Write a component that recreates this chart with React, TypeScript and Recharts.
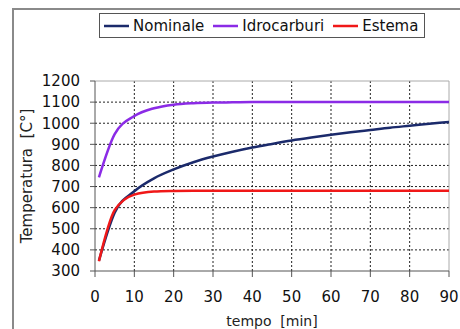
import { LineChart, Line, XAxis, YAxis, Legend, ReferenceLine } from "recharts"

const tempo = [1, 5, 10, 15, 20, 25, 30, 35, 40, 45, 50, 55, 60, 65, 70, 75, 80, 85, 90]
const nominale = [349, 576, 678, 739, 781, 815, 842, 865, 885, 902, 918, 932, 945, 957, 968, 979, 988, 997, 1006]
const idrocarburi = [743, 948, 1034, 1071, 1088, 1095, 1098, 1099, 1100, 1100, 1100, 1100, 1100, 1100, 1100, 1100, 1100, 1100, 1100]
const estema = [346, 588, 662, 676, 679, 680, 680, 680, 680, 680, 680, 680, 680, 680, 680, 680, 680, 680, 680]

const xTicks = [0, 10, 20, 30, 40, 50, 60, 70, 80, 90]
const yTicks = [300, 400, 500, 600, 700, 800, 900, 1000, 1100, 1200]
const seriesOrder = ["Nominale", "Idrocarburi", "Estema"]

const data = tempo.map((t, i) => ({
  t,
  nominale: nominale[i],
  idrocarburi: idrocarburi[i],
  estema: estema[i],
}))

const font = "'DejaVu Sans', Verdana, sans-serif"

function LegendBox({ payload }: any) {
  const items = [...(payload || [])].sort((a: any, b: any) => seriesOrder.indexOf(a.value) - seriesOrder.indexOf(b.value))
  return (
    <div
      style={{
        boxSizing: "border-box",
        width: 326,
        height: 25,
        border: "1px solid #555",
        background: "#fff",
        display: "flex",
        alignItems: "center",
        paddingLeft: 4,
        fontFamily: font,
        fontSize: 15,
        color: "#111",
      }}
    >
      {items.map((p: any) => (
        <div key={p.value} style={{ display: "flex", alignItems: "center", marginRight: 9 }}>
          <svg width={25} height={4} style={{ marginRight: 4 }}>
            <line x1={0} y1={2} x2={25} y2={2} stroke={p.color} strokeWidth={2.5} />
          </svg>
          <span>{p.value}</span>
        </div>
      ))}
    </div>
  )
}

export default function App() {
  return (
    <div style={{ position: "absolute", left: 0, top: 0, width: 460, height: 329, background: "#fff", overflow: "hidden" }}>
      <div
        style={{
          position: "absolute",
          left: 12,
          top: 8,
          width: 470,
          height: 340,
          borderLeft: "2px solid #8a8a8a",
          borderTop: "2px solid #8a8a8a",
        }}
      />
      <div style={{ position: "absolute", left: 0, top: 0 }}>
        <LineChart width={460} height={329} data={data} margin={{ top: 56, right: 11, left: 0, bottom: 0 }}>
          <XAxis
            dataKey="t"
            type="number"
            domain={[0, 90]}
            ticks={xTicks}
            interval={0}
            height={58}
            tickSize={6}
            tickMargin={14}
            stroke="#555"
            tick={{ fontSize: 15, fontFamily: font, fill: "#111" }}
            label={{
              value: "tempo\u00a0\u00a0[min]",
              position: "insideBottom",
              offset: 3,
              style: { fontSize: 14, fontFamily: font, fill: "#222" },
            }}
          />
          <YAxis
            type="number"
            domain={[300, 1200]}
            ticks={yTicks}
            interval={0}
            width={95}
            tickSize={5}
            tickMargin={10}
            stroke="#555"
            tick={{ fontSize: 15, fontFamily: font, fill: "#111" }}
            label={{
              value: "Temperatura\u00a0\u00a0[C°]",
              angle: -90,
              position: "insideLeft",
              offset: 27,
              style: { fontSize: 15, fontFamily: font, fill: "#222", textAnchor: "middle" },
            }}
          />
          {xTicks.slice(1, -1).map((v) => (
            <ReferenceLine key={"x" + v} x={v} stroke="#222" strokeDasharray="2 2" />
          ))}
          {yTicks.slice(1, -1).map((v) => (
            <ReferenceLine key={"y" + v} y={v} stroke="#222" strokeDasharray="2 2" />
          ))}
          <ReferenceLine y={1200} stroke="#aaa" />
          <ReferenceLine x={90} stroke="#aaa" />
          <Legend
            verticalAlign="top"
            content={<LegendBox />}
            wrapperStyle={{ position: "absolute", top: 13, left: 99, width: 326 }}
          />
          <Line type="monotone" dataKey="nominale" name="Nominale" stroke="#1b2a6b" strokeWidth={2.5} dot={false} isAnimationActive={false} />
          <Line type="monotone" dataKey="idrocarburi" name="Idrocarburi" stroke="#8b2be6" strokeWidth={2.5} dot={false} isAnimationActive={false} />
          <Line type="monotone" dataKey="estema" name="Estema" stroke="#f01818" strokeWidth={2.5} dot={false} isAnimationActive={false} />
        </LineChart>
      </div>
    </div>
  )
}
